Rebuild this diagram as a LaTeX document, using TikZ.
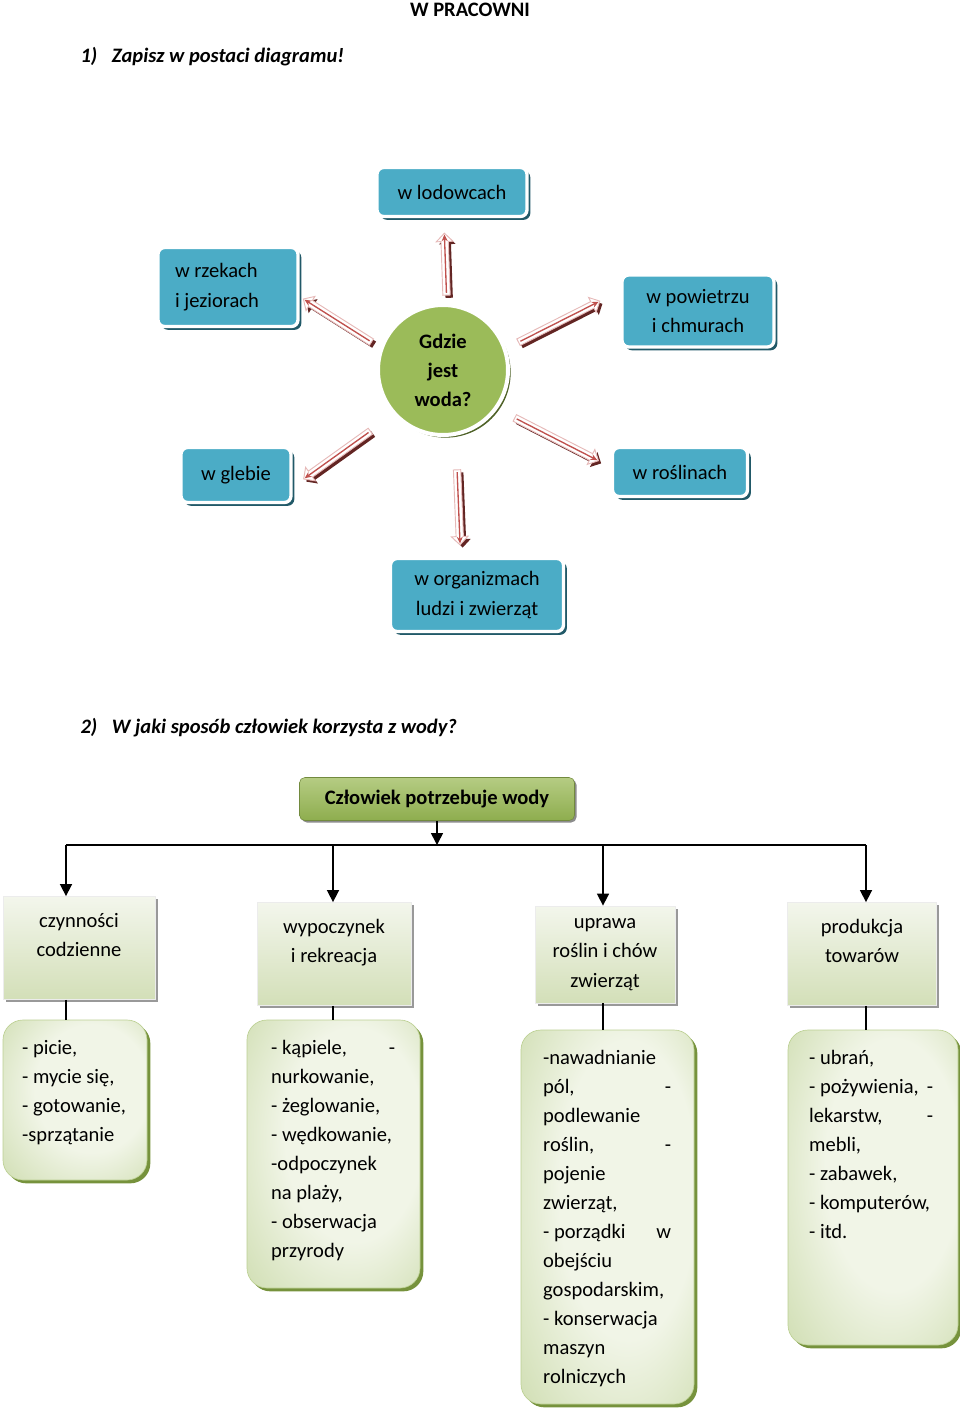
\documentclass[tikz,border=0pt]{standalone}
\usepackage{fontspec}
\setmainfont{Carlito}
\usetikzlibrary{arrows.meta,shapes.arrows,shadows}

\definecolor{wodaBlue}{HTML}{4BACC6}
\definecolor{wodaBlueDark}{HTML}{215968}
\definecolor{wodaGreen}{HTML}{9BBB59}
\definecolor{wodaGreenDark}{HTML}{4F6228}
\definecolor{arrowRed}{HTML}{C0504D}
\definecolor{arrowDark}{HTML}{632523}
\definecolor{arrowPale}{HTML}{E6B9B8}
\definecolor{hdrTop}{HTML}{B5CC83}
\definecolor{hdrBottom}{HTML}{8EAD4E}
\definecolor{catTop}{HTML}{F3F6EC}
\definecolor{catBottom}{HTML}{D3DFB8}
\definecolor{listLight}{HTML}{F1F5E7}
\definecolor{listDark}{HTML}{BCD093}
\definecolor{listShadow}{HTML}{76923C}

\pgfdeclareradialshading{listshade}{\pgfpoint{10bp}{6bp}}{color(0bp)=(listLight); color(20bp)=(listLight); color(50bp)=(listDark)}

\newcommand{\toppad}{\rule{0pt}{20pt}}
\hyphenpenalty=10000

\tikzset{every picture/.style={line width=0.75pt}}

\begin{document}
\begin{tikzpicture}[x=0.75pt,y=0.75pt,yscale=-1,xscale=1,
  base/.style={font=\fontsize{15.4}{22}\selectfont},
  qtxt/.style={base,font=\fontsize{15.4}{22}\selectfont\bfseries\itshape,anchor=west,inner sep=0pt},
  bluebox/.style={base,rounded corners=5pt,fill=wodaBlue,draw=white,line width=2.5pt,align=flush center,
    drop shadow={shadow xshift=2.5pt,shadow yshift=-2.5pt,fill=wodaBlueDark,opacity=1}},
  woda/.style={base,font=\fontsize{15.4}{21.75}\selectfont\bfseries,circle,fill=wodaGreen,draw=white,line width=3pt,
    minimum size=97.5pt,align=flush center,
    drop shadow={shadow xshift=2pt,shadow yshift=-2pt,fill=wodaGreenDark,opacity=1}},
  warrow/.style={single arrow,single arrow head extend=3.5pt,inner sep=2.4pt,fill=white,draw=arrowPale,line width=0.7pt,
    drop shadow={shadow xshift=2pt,shadow yshift=-2pt,fill=arrowDark,opacity=1}},
  wline/.style={arrowRed,line width=1pt,-{Stealth[length=5pt,width=4.5pt]},shorten <=2pt,shorten >=1.5pt},
  hdr/.style={base,font=\fontsize{15.4}{22}\selectfont\bfseries,rounded corners=4pt,top color=hdrTop,bottom color=hdrBottom,
    draw=hdrBottom!80!black,line width=0.4pt,
    drop shadow={shadow xshift=1.5pt,shadow yshift=-1.5pt,fill=black!45,opacity=1}},
  catbox/.style={base,align=flush center,top color=catTop,bottom color=catBottom,draw=white!85!gray,line width=0.6pt,
    drop shadow={shadow xshift=2pt,shadow yshift=-2pt,fill=black!40,opacity=1}},
  listbox/.style={rounded corners=15pt,shading=listshade,draw=listDark,line width=0.5pt,
    drop shadow={shadow xshift=2.5pt,shadow yshift=-2.5pt,fill=listShadow,opacity=1}},
  listtxt/.style={base,font=\fontsize{15.4}{21.75}\selectfont,anchor=north west,inner sep=0pt,align=flush left},
  conn/.style={line width=1.2pt,-{Triangle[width=9pt,length=9pt]}},
  plain/.style={line width=1.2pt}
]
\useasboundingbox (0,0) rectangle (960,1410);

% headings
\node[base,font=\fontsize{15.4}{22}\selectfont\bfseries] (title) at (470,10) {W PRACOWNI};
\node[qtxt] (q1) at (80,57) {1)\hspace{11pt}Zapisz w postaci diagramu!};

% where is the water
\node[bluebox,minimum width=112.5pt,minimum height=36.75pt] (lod) at (452,192) {w lodowcach};
\node[bluebox,text width=79.5pt,inner xsep=12.75pt,align=flush left,minimum height=59.25pt] (rzek) at (228,287) {w rzekach\\i jeziorach};
\node[bluebox,minimum width=114pt,minimum height=54pt] (pow) at (698,311) {w powietrzu\\i chmurach};
\node[bluebox,minimum width=82.5pt,minimum height=41.25pt] (gleb) at (236,475) {w glebie};
\node[bluebox,minimum width=101.25pt,minimum height=36.75pt] (rosl) at (680,472) {w roślinach};
\node[bluebox,minimum width=129.75pt,minimum height=54.75pt] (org) at (477,595) {w organizmach\\ludzi i zwierząt};

\node[woda] (woda) at (443,370) {Gdzie\\jest\\woda?};

% block arrows round the circle
\node[warrow,rotate=92,minimum height=46.5pt] (a1) at (445.5,266) {};
\node[warrow,rotate=147.7,minimum height=60.4pt] (a2) at (339,321.5) {};
\node[warrow,rotate=26.8,minimum height=68.3pt] (a3) at (557.5,322.5) {};
\node[warrow,rotate=215.6,minimum height=61.5pt] (a4) at (338.5,454) {};
\node[warrow,rotate=-27.1,minimum height=70.5pt] (a5) at (555,438.5) {};
\node[warrow,rotate=-87.7,minimum height=56.3pt] (a6) at (458.5,505.5) {};
\foreach \a in {a1,a2,a3,a4,a5,a6}
  \draw[wline] (\a.tail) -- (\a.tip);

% how people use water
\node[qtxt] (q2) at (80,728) {2)\hspace{11pt}W jaki sposób człowiek korzysta z wody?};
\node[hdr,minimum width=206.25pt,minimum height=32.25pt] (hdr) at (437,799) {Człowiek potrzebuje wody};

\coordinate (bus) at (437,845);
\coordinate (d1) at (66,845);
\coordinate (d2) at (333,845);
\coordinate (d3) at (603,845);
\coordinate (d4) at (866,845);

\node[catbox,minimum width=114pt,minimum height=72.75pt] (c1) at (79,948) {\toppad czynności\\codzienne\\\strut};
\node[catbox,minimum width=115.5pt,minimum height=72pt] (c2) at (334,954) {\toppad wypoczynek\\i rekreacja\\\strut};
\node[catbox,minimum width=105pt,minimum height=72.75pt] (c3) at (605,954.5) {uprawa\\roślin i chów\\zwierząt};
\node[catbox,minimum width=111.75pt,minimum height=72pt] (c4) at (862,954) {\toppad produkcja\\towarów\\\strut};

\node[listbox,minimum width=108pt,minimum height=120pt] (l1) at (75,1100) {};
\node[listbox,minimum width=129.75pt,minimum height=201pt] (l2) at (333.5,1154) {};
\node[listbox,minimum width=129.75pt,minimum height=280.5pt] (l3) at (607.5,1217) {};
\node[listbox,minimum width=127.5pt,minimum height=236.25pt] (l4) at (873,1187.5) {};

\node[listtxt,text width=85pt] (t1) at ([shift={(19,20)}]l1.north west) {- picie,\\- mycie się,\\- gotowanie,\\-sprzątanie};
\node[listtxt,text width=93pt] (t2) at ([shift={(24,20)}]l2.north west) {- kąpiele, \hfill -\\nurkowanie,\\- żeglowanie,\\- wędkowanie,\\-odpoczynek\\na plaży,\\- obserwacja\\przyrody};
\node[listtxt,text width=96pt] (t3) at ([shift={(22,20)}]l3.north west) {-nawadnianie\\pól, \hfill -\\podlewanie\\roślin, \hfill -\\pojenie\\zwierząt,\\- porządki \hfill w\\obejściu\\gospodarskim,\\- konserwacja\\maszyn\\rolniczych};
\node[listtxt,text width=93pt] (t4) at ([shift={(21,20)}]l4.north west) {- ubrań,\\- pożywienia, \hfill -\\lekarstw, \hfill -\\mebli,\\- zabawek,\\- komputerów,\\- itd.};

% connectors
\draw[conn] (hdr) -- (bus);
\draw[plain] (d1) -- (d4);
\draw[conn] (d1) -- (d1 |- c1.north);
\draw[conn] (d2) -- (d2 |- c2.north);
\draw[conn] (d3) -- (d3 |- c3.north);
\draw[conn] (d4) -- (d4 |- c4.north);
\draw[plain] (d1 |- c1.south) -- (d1 |- l1.north);
\draw[plain] (d2 |- c2.south) -- (d2 |- l2.north);
\draw[plain] (d3 |- c3.south) -- (d3 |- l3.north);
\draw[plain] (d4 |- c4.south) -- (d4 |- l4.north);

\end{tikzpicture}
\end{document}
